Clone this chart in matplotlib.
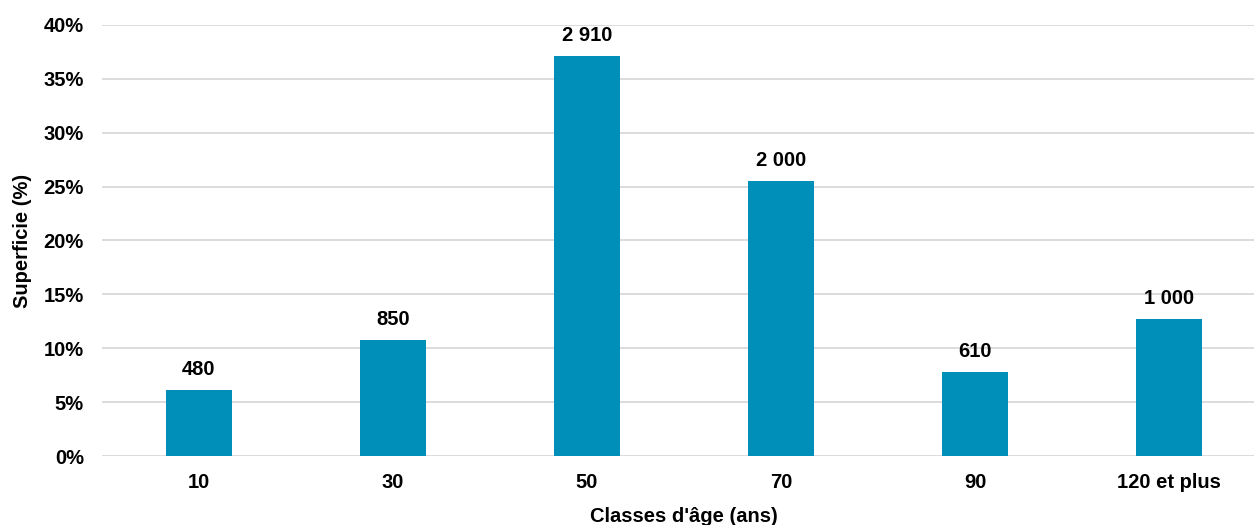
import matplotlib.pyplot as plt
from matplotlib.ticker import FuncFormatter

# classes d'age et valeurs
classes = ['10', '30', '50', '70', '90', '120 et plus']
superficie_pct = [6.1, 10.8, 37.1, 25.5, 7.8, 12.7]
etiquettes = ['480', '850', '2 910', '2 000', '610', '1 000']

plt.rcParams['font.family'] = ['Liberation Sans', 'DejaVu Sans']
plt.rcParams['font.weight'] = 'bold'

fig = plt.figure(figsize=(12.54, 5.25), dpi=100)
ax = fig.add_axes([102/1254, 69/525, 1164/1254, 431/525])

x = range(len(classes))
bars = ax.bar(x, superficie_pct, width=0.34, color='#008FB8', zorder=3)

for b, lab in zip(bars, etiquettes):
	ax.text(b.get_x() + b.get_width()/2, b.get_height() + 1.0, lab,
		ha='center', va='bottom', fontsize=14.5, fontweight='bold')

ax.set_xlim(-0.5, len(classes) - 0.5)
ax.set_ylim(0, 40)
ax.set_yticks(range(0, 41, 5))
ax.yaxis.set_major_formatter(FuncFormatter(lambda v, p: '%d%%' % v))
ax.set_xticks(list(x))
ax.set_xticklabels(classes)
ax.tick_params(axis='both', length=0, labelsize=14.5)
ax.tick_params(axis='x', pad=12)
ax.tick_params(axis='y', pad=13)
ax.grid(axis='y', color='#d9d9d9', linewidth=1.3, zorder=0)
for s in ax.spines.values():
	s.set_visible(False)

ax.set_xlabel("Classes d'âge (ans)", fontsize=14.5, fontweight='bold', labelpad=11)
ax.set_ylabel('Superficie (%)', fontsize=14.5, fontweight='bold', labelpad=8)

fig.savefig('out.png', dpi=100)
